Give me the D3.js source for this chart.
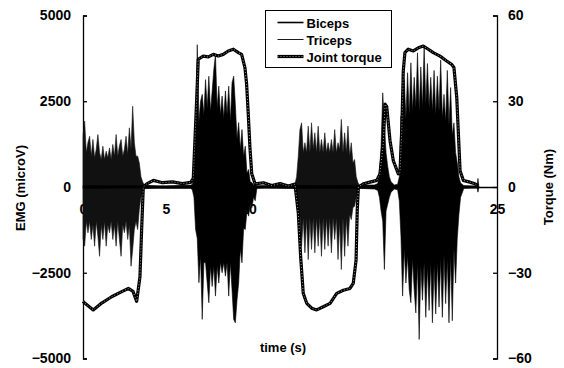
<!DOCTYPE html>
<html>
<head>
<meta charset="utf-8">
<script src="https://cdn.jsdelivr.net/npm/d3@7"></script>
<style>
  body { margin: 0; background: #fff; }
  text { font-family: "Liberation Sans", Arial, sans-serif; font-weight: bold; font-size: 13px; fill: #000; }
  .tick text { font-size: 14px; }
</style>
</head>
<body>
<div class="canvas"></div>
<script>
// tick labels
const timeTicks = [0, 5, 10, 15, 20, 25];
const emgTicks = [-5000, -2500, 0, 2500, 5000];
const torqueTicks = [-60, -30, 0, 30, 60];
const legendNames = ["Biceps", "Triceps", "Joint torque"];

// EMG as [time (s), upper peak, lower peak] in microV
const biceps = [
  [0, 40, -40], [3.8, 40, -30], [5.0, 30, -40], [6.5, 50, -40],
  [6.6, 80, -80], [6.7, 300, -300], [6.8, 1500, -1240], [6.9, 4150, -1500], [7.0, 1900, -2790],
  [7.1, 2500, -2000], [7.2, 2700, -3860], [7.3, 2100, -2200], [7.4, 3130, -2210], [7.5, 2300, -2800],
  [7.6, 3230, -3375], [7.7, 2200, -2300], [7.8, 2800, -2900], [7.9, 3425, -2300], [8.0, 3860, -3180],
  [8.1, 2300, -2300], [8.2, 2940, -2800], [8.3, 2100, -2200], [8.4, 2650, -2500], [8.5, 2000, -2200],
  [8.6, 2800, -2600], [8.7, 2100, -2200], [8.8, 2940, -3180], [8.9, 1900, -2200], [9.0, 3040, -3000],
  [9.1, 3230, -3860], [9.2, 2400, -3960], [9.3, 1400, -3300], [9.4, 1880, -2800], [9.5, 1100, -1800],
  [9.6, 1675, -2210], [9.7, 900, -1200], [9.8, 1190, -1240], [9.9, 400, -700], [10.0, 510, -850],
  [10.1, 150, -500], [10.2, 130, -600], [10.3, 60, -300], [10.4, 80, -400], [10.5, 40, -40],
  [11.0, 40, -30], [12.0, 50, -40], [14.5, 40, -40], [16.8, 50, -40], [17.6, 60, -60],
  [17.8, 100, -100], [17.9, 400, -300], [18.0, 1200, -700], [18.1, 2745, -1000], [18.2, 1800, -2405],
  [18.3, 1000, -700], [18.4, 600, -500], [18.5, 300, -300], [18.6, 150, -150], [18.8, 60, -60],
  [19.0, 80, -80], [19.1, 300, -400], [19.2, 2065, -1435], [19.3, 1500, -3180], [19.4, 3135, -1800],
  [19.5, 2000, -2800], [19.6, 3330, -2000], [19.7, 2100, -3000], [19.8, 3620, -3375], [19.9, 2200, -2100],
  [20.0, 3200, -3000], [20.1, 2300, -3670], [20.2, 3910, -2200], [20.3, 2200, -4445], [20.4, 3500, -2300],
  [20.5, 2300, -3300], [20.6, 4105, -2200], [20.7, 2400, -3800], [20.8, 3600, -2300], [20.9, 2300, -3600],
  [21.0, 3200, -2200], [21.1, 2200, -3960], [21.2, 3400, -2300], [21.3, 2100, -3700], [21.4, 3230, -2200],
  [21.5, 2200, -3500], [21.6, 3700, -2100], [21.7, 2000, -3800], [21.8, 2700, -2000], [21.9, 1900, -3400],
  [22.0, 3400, -2100], [22.1, 1800, -3960], [22.2, 2900, -2000], [22.3, 1500, -3900], [22.4, 1870, -1800],
  [22.5, 1000, -2800], [22.6, 705, -1500], [22.7, 300, -800], [22.8, 120, -300],
  [23.0, 40, -40], [23.5, 30, -30], [23.8, 30, -30], [23.85, 250, -150], [23.9, 30, -30]
];

const triceps = [
  [0.0, 1500, -1500], [0.1, 1920, -1725], [0.2, 1000, -1000], [0.3, 1300, -1335], [0.4, 1480, -1000],
  [0.5, 900, -1530], [0.6, 1385, -1100], [0.7, 850, -1725], [0.8, 1100, -1000], [0.9, 1530, -1435],
  [1.0, 1005, -2020], [1.1, 800, -1100], [1.2, 1190, -1530], [1.3, 800, -1000], [1.4, 1045, -1725],
  [1.5, 850, -1100], [1.6, 1140, -1335], [1.7, 800, -1000], [1.8, 1240, -1530], [1.9, 900, -1100],
  [2.0, 1530, -1725], [2.1, 900, -1000], [2.2, 1200, -1530], [2.3, 1385, -2020], [2.4, 900, -1100],
  [2.5, 1100, -1335], [2.6, 1480, -1000], [2.7, 950, -1530], [2.8, 1725, -1100], [2.9, 1100, -2310],
  [3.0, 2355, -1820], [3.1, 1300, -1240], [3.2, 900, -1000], [3.3, 900, -1240], [3.4, 700, -655],
  [3.5, 300, -300], [3.6, 150, -150], [3.7, 50, -50],
  [4.5, 30, -30], [6.0, 40, -30], [8.0, 30, -30], [10.5, 30, -30], [12.0, 40, -30], [12.7, 40, -40],
  [12.8, 80, -80], [12.9, 300, -300], [13.0, 900, -950], [13.1, 1675, -800], [13.2, 1870, -1725],
  [13.3, 1000, -900], [13.4, 1290, -1920], [13.5, 1000, -900], [13.6, 1775, -2115], [13.7, 1000, -900],
  [13.8, 1870, -1820], [13.9, 1100, -900], [14.0, 1580, -1920], [14.1, 1000, -900], [14.2, 1775, -1725],
  [14.3, 1000, -900], [14.4, 1385, -2020], [14.5, 1000, -900], [14.6, 1580, -1820], [14.7, 1000, -900],
  [14.8, 1290, -1725], [14.9, 1000, -900], [15.0, 1385, -1920], [15.1, 1000, -900], [15.2, 1675, -1530],
  [15.3, 1000, -900], [15.4, 1290, -2115], [15.5, 1100, -1000], [15.6, 1970, -2405], [15.7, 1000, -900],
  [15.8, 1580, -2020], [15.9, 1000, -900], [16.0, 1775, -1725], [16.1, 900, -800], [16.2, 1290, -950],
  [16.3, 700, -600], [16.4, 800, -560], [16.5, 300, -300], [16.6, 130, -120], [16.7, 40, -40],
  [18.0, 40, -40], [20.0, 30, -30], [23.9, 30, -30]
];

// joint torque as [time (s), Nm]
const torque = [
  [0, -40], [0.12, -40.7], [0.62, -43], [1.13, -40.6], [1.73, -38.4], [2.34, -36.6], [2.74, -35.5],
  [3.02, -36.5], [3.24, -40], [3.44, -31.4], [3.54, -15], [3.64, 0], [3.85, 1.1], [4.25, 2.3],
  [4.8, 1.5], [5.4, 1.8], [6.0, 1.2], [6.5, 1.6], [6.66, 3], [6.86, 30], [6.96, 44.7], [7.26, 45.8],
  [7.57, 45.5], [7.87, 46.4], [8.17, 45.8], [8.47, 46.4], [8.77, 47.6], [9.08, 48.2], [9.38, 47],
  [9.58, 46.4], [9.78, 41.7], [9.88, 36], [9.98, 25.5], [10.08, 13.9], [10.19, 4.6], [10.39, 1.1],
  [10.9, 1.5], [11.4, 0.5], [11.9, 1.2], [12.4, 0.3], [12.8, 1.0], [13.0, -9], [13.15, -25],
  [13.3, -37.2], [13.51, -40.7], [13.81, -42.4], [14.11, -43], [14.51, -41.9], [14.92, -40.7],
  [15.32, -37.2], [15.72, -36.1], [16.12, -35.5], [16.32, -33.7], [16.49, -25.6], [16.56, -8.2],
  [16.63, 0], [16.93, 1.1], [17.33, 1.7], [17.74, 2.3], [17.93, 4.6], [18.13, 15], [18.24, 29],
  [18.34, 28.1], [18.54, 16.2], [18.74, 9.2], [19.04, 4.6], [19.14, 5], [19.25, 19.7], [19.34, 40.6],
  [19.44, 47], [19.64, 48.2], [19.95, 47.6], [20.25, 48.7], [20.55, 49.3], [20.85, 48.2], [21.15, 47.0],
  [21.56, 45.8], [21.96, 44.1], [22.26, 42.9], [22.40, 41.8], [22.57, 31.3], [22.66, 19.7],
  [22.77, 5.7], [22.97, 2.3], [23.37, 1.7], [23.67, 1.1], [23.87, 0.5]
];

const svg = d3.select(".canvas")
              .append("svg")
              .attr("width", 564)
              .attr("height", 368);

const x = d3.scaleLinear().domain([0, 25]).range([83, 497]);
const yEmg = d3.scaleLinear().domain([-5000, 5000]).range([358.5, 15.5]);
const yTq = d3.scaleLinear().domain([-60, 60]).range([358.5, 15.5]);

// axes first, the traces cover the time labels like in the print
svg.append("g")
   .attr("transform", `translate(0,${yEmg(0)})`)
   .call(d3.axisBottom(x).tickValues(timeTicks).tickSize(0).tickPadding(17).tickFormat(d3.format("d")));

svg.append("g")
   .attr("transform", `translate(${x(0)},0)`)
   .call(d3.axisLeft(yEmg).tickValues(emgTicks).tickSizeInner(-4).tickSizeOuter(-4).tickPadding(12).tickFormat(d3.format("d")));

svg.append("g")
   .attr("transform", `translate(${x(25)},0)`)
   .call(d3.axisRight(yTq).tickValues(torqueTicks).tickSizeInner(-4).tickSizeOuter(-4).tickPadding(11).tickFormat(d3.format("d")));

svg.selectAll(".domain, .tick line").attr("stroke-width", 1.3);

// EMG traces
const emgArea = d3.area()
  .x(d => x(d[0]))
  .y0(d => yEmg(d[2]))
  .y1(d => yEmg(d[1]));

svg.append("path")
   .datum(triceps)
   .attr("d", emgArea)
   .attr("fill", "#111")
   .attr("stroke", "#111")
   .attr("stroke-width", 0.6);

svg.append("path")
   .datum(biceps)
   .attr("d", emgArea)
   .attr("fill", "#000")
   .attr("stroke", "#000")
   .attr("stroke-width", 0.6);

// joint torque: thick line with a speckled core
const torqueLine = d3.line()
  .x(d => x(d[0]))
  .y(d => yTq(d[1]));

svg.append("path")
   .datum(torque)
   .attr("d", torqueLine)
   .attr("fill", "none")
   .attr("stroke", "#000")
   .attr("stroke-width", 3.2)
   .attr("stroke-linejoin", "round");

svg.append("path")
   .datum(torque)
   .attr("d", torqueLine)
   .attr("fill", "none")
   .attr("stroke", "#aaa")
   .attr("stroke-width", 0.9)
   .attr("stroke-dasharray", "1,2");

// axis titles
svg.append("text")
   .attr("transform", "translate(25,188) rotate(-90)")
   .attr("text-anchor", "middle")
   .text("EMG (microV)");

svg.append("text")
   .attr("transform", "translate(553,187) rotate(-90)")
   .attr("text-anchor", "middle")
   .text("Torque (Nm)");

svg.append("text")
   .attr("x", 283)
   .attr("y", 352)
   .attr("text-anchor", "middle")
   .text("time (s)");

// legend
const legend = svg.append("g").attr("transform", "translate(265.5,10.5)");
legend.append("rect")
      .attr("width", 126)
      .attr("height", 57)
      .attr("fill", "#fff")
      .attr("stroke", "#000");

const rows = legend.selectAll(".row")
  .data(legendNames)
  .enter()
  .append("g")
  .attr("transform", (d, i) => `translate(0,${12 + i * 17})`);

rows.append("line")
    .attr("x1", 12).attr("x2", 38)
    .attr("stroke", "#000")
    .attr("stroke-width", (d, i) => [1.6, 0.9, 3.2][i]);

rows.filter((d, i) => i === 2)
    .append("line")
    .attr("x1", 12).attr("x2", 38)
    .attr("stroke", "#aaa")
    .attr("stroke-width", 0.9)
    .attr("stroke-dasharray", "1,2");

rows.append("text")
    .attr("x", 41)
    .attr("y", 5)
    .text(d => d);
</script>
</body>
</html>
